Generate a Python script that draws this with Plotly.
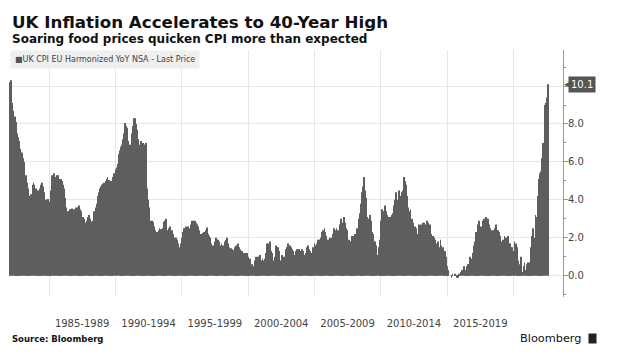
import plotly.graph_objects as go
import pandas as pd

# Monthly UK CPI YoY (%), Jan 1982 .. Jul 2022, one list per year
cpi_by_year = {
    1982: [10.2, 10.3, 9.1, 8.7, 8.4, 8.1, 7.5, 7.3, 7.1, 6.7, 6.5, 6.5],
    1983: [6.2, 6.0, 5.3, 4.9, 4.6, 4.1, 4.2, 4.3, 4.8, 4.9, 4.8, 4.6],
    1984: [4.5, 4.5, 4.3, 4.6, 4.8, 4.9, 4.7, 4.4, 4.0, 4.0, 4.05, 3.9],
    1985: [3.9, 4.5, 5.3, 5.4, 5.4, 5.2, 5.3, 5.3, 5.05, 5.1, 5.1, 5.0],
    1986: [4.8, 4.6, 4.1, 3.6, 3.4, 3.4, 3.5, 3.5, 3.55, 3.5, 3.5, 3.6],
    1987: [3.6, 3.6, 3.7, 3.5, 3.4, 3.1, 3.1, 3.0, 2.8, 2.9, 3.1, 3.2],
    1988: [3.0, 2.85, 2.85, 2.9, 3.4, 3.6, 3.8, 4.2, 4.4, 4.6, 4.7, 4.8],
    1989: [4.85, 4.9, 5.0, 5.1, 5.2, 5.05, 5.0, 5.0, 5.0, 5.2, 5.4, 5.6],
    1990: [5.7, 5.9, 6.4, 6.6, 6.8, 6.9, 7.2, 7.5, 8.05, 7.9, 7.8, 7.1],
    1991: [6.9, 6.9, 7.5, 7.9, 8.3, 8.3, 8.0, 7.7, 7.2, 6.9, 7.1, 7.0],
    1992: [7.0, 6.9, 6.9, 7.0, 4.6, 4.0, 3.6, 2.9, 2.9, 2.85, 2.6, 2.4],
    1993: [2.2, 2.3, 2.4, 2.5, 2.45, 2.45, 2.5, 2.85, 2.9, 3.0, 2.4, 2.5],
    1994: [2.6, 2.6, 2.4, 2.2, 2.0, 2.0, 2.0, 1.9, 1.7, 1.5, 1.7, 2.0],
    1995: [2.3, 2.5, 2.5, 2.6, 2.4, 2.6, 2.5, 2.7, 2.9, 2.9, 2.85, 2.9],
    1996: [2.8, 2.7, 2.6, 2.4, 2.2, 2.2, 2.25, 2.3, 2.3, 2.4, 2.55, 2.2],
    1997: [2.1, 2.0, 1.7, 1.6, 1.6, 1.8, 2.0, 1.9, 1.9, 1.8, 1.6, 1.7],
    1998: [1.6, 1.55, 1.8, 1.9, 2.0, 1.7, 1.5, 1.45, 1.45, 1.4, 1.35, 1.5],
    1999: [1.6, 1.4, 1.7, 1.5, 1.4, 1.3, 1.3, 1.2, 1.2, 1.2, 1.2, 1.0],
    2000: [0.8, 0.9, 0.6, 0.6, 0.5, 0.8, 1.0, 0.6, 1.0, 1.0, 1.1, 0.8],
    2001: [0.9, 0.8, 0.9, 1.2, 1.7, 1.7, 1.4, 1.8, 1.3, 1.2, 0.8, 1.0],
    2002: [1.6, 1.5, 1.5, 1.3, 0.8, 0.6, 1.1, 1.0, 1.0, 1.4, 1.5, 1.7],
    2003: [1.3, 1.6, 1.5, 1.4, 1.3, 1.1, 1.3, 1.4, 1.4, 1.4, 1.3, 1.3],
    2004: [1.4, 1.3, 1.1, 1.2, 1.5, 1.6, 1.4, 1.3, 1.1, 1.2, 1.5, 1.7],
    2005: [1.6, 1.7, 1.9, 1.9, 1.9, 2.0, 2.3, 2.4, 2.5, 2.3, 2.1, 1.9],
    2006: [1.9, 2.0, 1.8, 2.0, 2.2, 2.5, 2.4, 2.5, 2.4, 2.4, 2.7, 3.0],
    2007: [2.7, 2.8, 3.1, 2.8, 2.5, 2.4, 1.9, 1.8, 1.8, 2.1, 2.1, 2.1],
    2008: [2.2, 2.5, 2.5, 3.0, 3.3, 3.8, 4.4, 4.7, 5.2, 4.5, 4.1, 3.1],
    2009: [3.0, 3.2, 2.9, 2.3, 2.2, 1.8, 1.8, 1.6, 1.1, 1.5, 1.9, 2.9],
    2010: [3.5, 3.0, 3.4, 3.7, 3.4, 3.2, 3.1, 3.1, 3.1, 3.2, 3.3, 3.7],
    2011: [4.0, 4.4, 4.0, 4.5, 4.5, 4.2, 4.4, 4.5, 5.2, 5.0, 4.8, 4.2],
    2012: [3.6, 3.4, 3.5, 3.0, 2.8, 2.4, 2.6, 2.5, 2.2, 2.7, 2.7, 2.7],
    2013: [2.7, 2.8, 2.8, 2.4, 2.7, 2.9, 2.8, 2.7, 2.7, 2.2, 2.1, 2.0],
    2014: [1.9, 1.7, 1.6, 1.8, 1.5, 1.9, 1.6, 1.5, 1.2, 1.3, 1.0, 0.5],
    2015: [0.3, 0.0, 0.0, -0.1, 0.1, 0.0, 0.1, 0.0, -0.1, -0.1, 0.1, 0.2],
    2016: [0.3, 0.3, 0.5, 0.3, 0.3, 0.5, 0.6, 0.6, 1.0, 0.9, 1.2, 1.6],
    2017: [1.8, 2.3, 2.3, 2.7, 2.9, 2.6, 2.6, 2.9, 3.0, 3.0, 3.1, 3.0],
    2018: [3.0, 2.7, 2.5, 2.4, 2.4, 2.4, 2.5, 2.7, 2.4, 2.4, 2.3, 2.1],
    2019: [1.8, 1.9, 1.9, 2.1, 2.0, 2.0, 2.1, 1.7, 1.7, 1.5, 1.5, 1.3],
    2020: [1.8, 1.7, 1.5, 0.8, 0.5, 0.6, 1.0, 0.2, 0.5, 0.7, 0.3, 0.6],
    2021: [0.7, 0.4, 0.7, 1.5, 2.1, 2.5, 2.0, 3.2, 3.1, 4.2, 5.1, 5.4],
    2022: [5.5, 6.2, 7.0, 9.0, 9.1, 9.4, 10.1],
}

series_name = "UK CPI EU Harmonized YoY NSA - Last Price"
title_text = "UK Inflation Accelerates to 40-Year High"
subtitle_text = "Soaring food prices quicken CPI more than expected"
period_labels = ["1985-1989", "1990-1994", "1995-1999", "2000-2004",
                 "2005-2009", "2010-2014", "2015-2019"]
period_starts = [1985, 1990, 1995, 2000, 2005, 2010, 2015, 2020]
y_ticks = [0, 2, 4, 6, 8, 10]

values = [v for yr in sorted(cpi_by_year) for v in cpi_by_year[yr]]
dates = pd.date_range("1982-01-01", periods=len(values), freq="ME")

# plot area in pixels
W, H = 619, 360
L, R, T, B = 9, 563, 50, 297


def px(x):
    return (x - L) / (R - L)


def py(y):
    return (B - y) / (B - T)


fig = go.Figure()
fig.add_trace(go.Bar(x=dates, y=values, marker=dict(color="#5e5e5e", line=dict(width=0)),
                     name=series_name, showlegend=False, hoverinfo="x+y"))

tick_mid = [pd.Timestamp(f"{s + 2}-07-01") for s in period_starts[:-1]]
grid_vals = [pd.Timestamp(f"{s}-01-01") for s in period_starts]

fig.update_layout(
    width=W, height=H,
    margin=dict(l=L, r=W - R, t=T, b=H - B),
    paper_bgcolor="white", plot_bgcolor="white",
    bargap=0.3,
    font=dict(family="DejaVu Sans", color="#444"),
    xaxis=dict(
        type="date",
        range=["1981-12-26", "2023-09-24"],
        tickmode="array", tickvals=tick_mid, ticktext=period_labels,
        showgrid=False, ticks="", showline=False, zeroline=False,
        ticklabelstandoff=19,
        tickfont=dict(size=10, color="#444"),
        minor=dict(tickmode="array", tickvals=grid_vals, showgrid=True,
                   gridcolor="#e6e6e6", gridwidth=1, ticks=""),
    ),
    yaxis=dict(
        side="right", range=[-1.12, 11.9],
        tickmode="array", tickvals=y_ticks,
        ticktext=[f"{v:.1f}" if v < 10 else "" for v in y_ticks],
        showgrid=True, gridcolor="#e6e6e6", gridwidth=1,
        zeroline=False, showline=True, linecolor="#999", linewidth=1,
        ticks="outside", ticklen=4, tickcolor="#999",
        ticklabelstandoff=-2,
        tickfont=dict(size=10, color="#444"),
        minor=dict(dtick=1, tick0=1, ticks="outside", ticklen=2, tickcolor="#999", showgrid=False),
    ),
)

last_val = values[-1]
annotations = [
    dict(text=f"<b>{title_text}</b>", x=px(10), y=py(22), xref="paper", yref="paper",
         xanchor="left", yanchor="middle", showarrow=False,
         font=dict(family="DejaVu Sans", size=16.7, color="#111")),
    dict(text=f"<b>{subtitle_text}</b>", x=px(10), y=py(38.5), xref="paper", yref="paper",
         xanchor="left", yanchor="middle", showarrow=False,
         font=dict(family="DejaVu Sans", size=12, color="#111")),
    dict(text=f"<span style='color:#555'>■</span>{series_name}", x=px(10), y=py(59),
         xref="paper", yref="paper", xanchor="left", yanchor="middle", showarrow=False,
         bgcolor="#efefef", borderpad=4,
         font=dict(family="DejaVu Sans", size=8, color="#444")),
    dict(text="<b>Source: Bloomberg</b>", x=px(10), y=py(339), xref="paper", yref="paper",
         xanchor="left", yanchor="middle", showarrow=False,
         font=dict(family="DejaVu Sans", size=8.5, color="#111")),
    dict(text="Bloomberg", x=px(583), y=py(338), xref="paper", yref="paper",
         xanchor="right", yanchor="middle", showarrow=False,
         font=dict(family="DejaVu Sans", size=11.3, color="#111")),
    dict(text=" ", x=px(588), y=py(338), xref="paper", yref="paper",
         xanchor="left", yanchor="middle", showarrow=False, bgcolor="#222",
         borderpad=0, width=7, height=9, font=dict(size=6, color="white")),
    dict(text=f"{last_val:.1f}", x=1, y=last_val, xref="paper", yref="y",
         xanchor="left", yanchor="middle", xshift=5, showarrow=False,
         bgcolor="#555", borderpad=2, font=dict(family="DejaVu Sans", size=10, color="white")),
    dict(text="◀", x=1, y=last_val, xref="paper", yref="y",
         xanchor="left", yanchor="middle", xshift=-1, showarrow=False,
         font=dict(family="DejaVu Sans", size=9, color="#555")),
]
fig.update_layout(annotations=annotations)

fig.write_html("out.html", config={"displayModeBar": False},
               post_script="document.body.style.margin='0';")
